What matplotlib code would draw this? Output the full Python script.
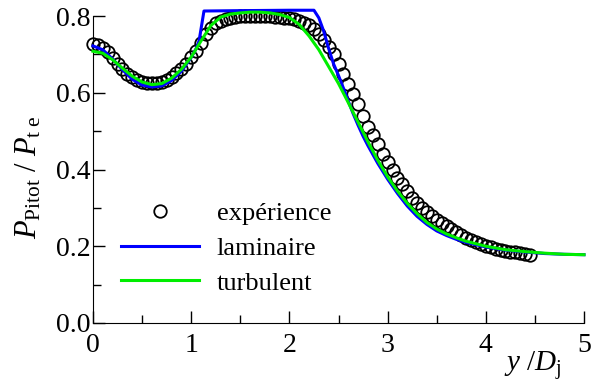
import matplotlib
matplotlib.use("Agg")
import matplotlib.pyplot as plt
from matplotlib.ticker import MultipleLocator

plt.rcParams["font.family"] = ["Liberation Serif", "DejaVu Serif"]
plt.rcParams["mathtext.fontset"] = "custom"
plt.rcParams["mathtext.rm"] = "Liberation Serif"
plt.rcParams["mathtext.it"] = "Liberation Serif:italic"

# experience (mesures)
exp_x = [0.00, 0.05, 0.10, 0.15, 0.20, 0.25, 0.30, 0.35, 0.40, 0.45,
         0.50, 0.55, 0.60, 0.65, 0.70, 0.75, 0.80, 0.85, 0.90, 0.95,
         1.00, 1.05, 1.10, 1.15, 1.20, 1.25, 1.30, 1.35, 1.40, 1.45,
         1.50, 1.55, 1.60, 1.65, 1.70, 1.75, 1.80, 1.85, 1.90, 1.95,
         2.00, 2.05, 2.10, 2.15, 2.20, 2.25, 2.30, 2.35, 2.40, 2.45,
         2.50, 2.55, 2.60, 2.65, 2.70, 2.75, 2.80, 2.85, 2.90, 2.95,
         3.00, 3.05, 3.10, 3.15, 3.20, 3.25, 3.30, 3.35, 3.40, 3.45,
         3.50, 3.55, 3.60, 3.65, 3.70, 3.75, 3.80, 3.85, 3.90, 3.95,
         4.00, 4.05, 4.10, 4.15, 4.20, 4.25, 4.30, 4.35, 4.40, 4.45]
exp_y = [0.727, 0.724, 0.716, 0.705, 0.690, 0.675, 0.662, 0.650, 0.641, 0.634,
         0.629, 0.626, 0.625, 0.626, 0.629, 0.634, 0.641, 0.651, 0.662, 0.676,
         0.692, 0.710, 0.730, 0.752, 0.770, 0.781, 0.788, 0.793, 0.796, 0.798,
         0.799, 0.800, 0.800, 0.800, 0.800, 0.800, 0.799, 0.798, 0.797, 0.796,
         0.795, 0.792, 0.788, 0.783, 0.776, 0.766, 0.753, 0.738, 0.718, 0.700,
         0.675, 0.650, 0.624, 0.598, 0.570, 0.540, 0.511, 0.490, 0.466, 0.440,
         0.419, 0.399, 0.379, 0.361, 0.343, 0.327, 0.313, 0.300, 0.289, 0.278,
         0.268, 0.260, 0.252, 0.245, 0.238, 0.229, 0.222, 0.216, 0.210, 0.205,
         0.201, 0.197, 0.194, 0.191, 0.188, 0.186, 0.184, 0.182, 0.180, 0.178]

# calcul laminaire
lam_x = [0.0, 0.1, 0.2, 0.3, 0.4, 0.5, 0.6, 0.7, 0.8, 0.9, 1.0, 1.05, 1.08,
         1.13, 1.5, 2.0, 2.25, 2.30, 2.35, 2.40, 2.45, 2.50, 2.55, 2.60, 2.65,
         2.70, 2.75, 2.80, 2.90, 3.00, 3.10, 3.20, 3.30, 3.40, 3.50, 3.60,
         3.70, 3.80, 4.00, 4.20, 4.40, 4.60, 4.80, 5.00]
lam_y = [0.722, 0.712, 0.688, 0.660, 0.635, 0.620, 0.615, 0.618, 0.632, 0.656,
         0.692, 0.715, 0.735, 0.813, 0.814, 0.815, 0.815, 0.795, 0.760, 0.715,
         0.675, 0.645, 0.612, 0.578, 0.545, 0.515, 0.487, 0.462, 0.416, 0.375,
         0.338, 0.305, 0.278, 0.257, 0.240, 0.228, 0.218, 0.210, 0.198, 0.190,
         0.185, 0.181, 0.179, 0.178]

# calcul turbulent
tur_x = [0.0, 0.1, 0.2, 0.3, 0.4, 0.5, 0.6, 0.7, 0.8, 0.9, 1.0, 1.1, 1.2,
         1.3, 1.4, 1.5, 1.6, 1.7, 1.8, 1.9, 2.0, 2.1, 2.2, 2.3, 2.4, 2.5, 2.6,
         2.7, 2.8, 2.9, 3.0, 3.1, 3.2, 3.3, 3.4, 3.5, 3.6, 3.7, 3.8, 4.0, 4.2,
         4.4, 4.6, 4.8, 5.0]
tur_y = [0.708, 0.703, 0.686, 0.664, 0.643, 0.628, 0.621, 0.624, 0.638, 0.661,
         0.693, 0.735, 0.775, 0.797, 0.805, 0.808, 0.810, 0.810, 0.808, 0.804,
         0.796, 0.778, 0.748, 0.712, 0.668, 0.624, 0.574, 0.523, 0.472, 0.424,
         0.381, 0.344, 0.312, 0.285, 0.262, 0.245, 0.232, 0.222, 0.213, 0.200,
         0.191, 0.186, 0.182, 0.179, 0.178]

fig = plt.figure(figsize=(5.95, 3.83), dpi=100)
ax = fig.add_axes([93 / 595, 60 / 383, 491 / 595, 318 / 383])

ax.plot(exp_x, exp_y, "o", mfc="none", mec="black", ms=9, mew=1.3,
        clip_on=False, zorder=2, label="expérience")
ax.plot(lam_x, lam_y, color="#0000ff", lw=2.2, clip_on=False, zorder=3,
        label="laminaire")
ax.plot(tur_x, tur_y, color="#00ee00", lw=2.2, clip_on=False, zorder=4,
        label="turbulent")

ax.set_xlim(0, 5)
ax.set_ylim(0, 0.8 * 318 / 307)
ax.spines["top"].set_visible(False)
ax.spines["right"].set_visible(False)
ax.spines["left"].set_bounds(0, 0.8)
ax.set_yticks([0.0, 0.2, 0.4, 0.6, 0.8])
ax.set_yticklabels(["0.0", "0.2", "0.4", "0.6", "0.8"])
ax.xaxis.set_major_locator(MultipleLocator(1))
ax.xaxis.set_minor_locator(MultipleLocator(0.5))
ax.yaxis.set_minor_locator(MultipleLocator(0.1))
ax.tick_params(which="both", direction="in", width=1, labelsize=20)
ax.tick_params(which="major", length=8.5)
ax.tick_params(which="minor", length=6)
ax.tick_params(axis="x", pad=7)
ax.tick_params(axis="y", pad=2)

ax.set_ylabel(r"$P_{\mathrm{Pitot}}\ /\ P_{\mathrm{t\ e}}$", fontsize=22)
ax.yaxis.set_label_coords(-0.1, (323 - 177) / 318)
fig.text(533 / 595, (383 - 365) / 383, r"$y\ /D_{\mathrm{j}}$", fontsize=21,
         ha="center", va="center")

ax.legend(loc="upper left", bbox_to_anchor=(121 / 595, (383 - 202) / 383),
          bbox_transform=fig.transFigure, frameon=False, fontsize=19,
          borderpad=0, handlelength=2.95, handletextpad=0.68,
          labelspacing=0.42, borderaxespad=0)

fig.savefig("out.png", dpi=100)
